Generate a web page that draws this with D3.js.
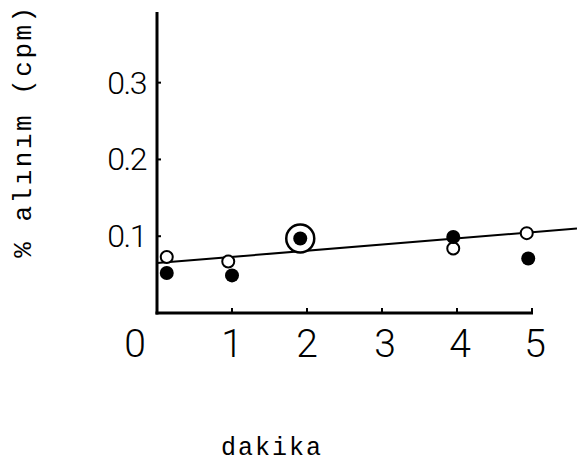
<!DOCTYPE html>
<html>
<head>
<meta charset="utf-8">
<script src="https://cdn.jsdelivr.net/npm/d3@7"></script>
<style>
body { margin: 0; background: #fff; }
.num { font-family: "Roboto", "DejaVu Sans Condensed", sans-serif; font-weight: 300; fill: #000; }
.mono { font-family: "Liberation Mono", "DejaVu Sans Mono", monospace; fill: #000; }
</style>
</head>
<body>
<div id="chart"></div>
<script>
// values
var xTicks = [0, 1, 2, 3, 4, 5];
var yTicks = [0.1, 0.2, 0.3];
var yTickLabels = ["0.1", "0.2", "0.3"];
var openX = [0.13, 0.95, 3.95, 4.93];
var openY = [0.073, 0.067, 0.084, 0.104];
var filledX = [0.13, 1.0, 1.91, 3.95, 4.95];
var filledY = [0.052, 0.049, 0.097, 0.099, 0.071];
var ringX = [1.91];
var ringY = [0.097];
var fitX = [0, 5.6];
var fitY = [0.065, 0.110];

var width = 577, height = 468;
var x = d3.scaleLinear().domain([0, 5]).range([157, 532]);
var y = d3.scaleLinear().domain([0, 0.392]).range([313, 12]);

var svg = d3.select("#chart").append("svg")
    .attr("width", width)
    .attr("height", height);

// axes lines
svg.append("line")
    .attr("x1", x(0)).attr("x2", x(0))
    .attr("y1", y(0.392)).attr("y2", y(0) + 1.5)
    .attr("stroke", "#000").attr("stroke-width", 3);
svg.append("line")
    .attr("x1", x(0) - 1.5).attr("x2", x(5) + 1)
    .attr("y1", y(0)).attr("y2", y(0))
    .attr("stroke", "#000").attr("stroke-width", 3);

// small inner ticks
svg.selectAll(".xt").data(xTicks.slice(1)).enter().append("line")
    .attr("x1", d => x(d)).attr("x2", d => x(d))
    .attr("y1", y(0)).attr("y2", y(0) - 5)
    .attr("stroke", "#000").attr("stroke-width", 2);
svg.selectAll(".yt").data(yTicks).enter().append("line")
    .attr("x1", x(0)).attr("x2", x(0) + 4)
    .attr("y1", d => y(d)).attr("y2", d => y(d))
    .attr("stroke", "#000").attr("stroke-width", 2);

// tick labels
svg.selectAll(".xl").data(xTicks).enter().append("text")
    .attr("class", "num")
    .attr("x", d => d == 0 ? x(d) - 22 : x(d) + (d >= 3 ? 3 : 0))
    .attr("y", 357)
    .attr("text-anchor", "middle")
    .attr("font-size", 39)
    .text(d => d);
svg.selectAll(".yl").data(yTicks).enter().append("text")
    .attr("class", "num")
    .attr("x", 146)
    .attr("y", d => y(d) + 11)
    .attr("text-anchor", "end")
    .attr("font-size", 32)
    .attr("letter-spacing", -1.5)
    .text((d, i) => yTickLabels[i]);

// fitted line
svg.append("line")
    .attr("x1", x(fitX[0])).attr("y1", y(fitY[0]))
    .attr("x2", x(fitX[1])).attr("y2", y(fitY[1]))
    .attr("stroke", "#000").attr("stroke-width", 2);

// ring around the point at 2 min
svg.selectAll(".ring").data(ringX).enter().append("circle")
    .attr("cx", d => x(d))
    .attr("cy", (d, i) => y(ringY[i]))
    .attr("r", 14)
    .attr("fill", "#fff")
    .attr("stroke", "#000").attr("stroke-width", 2.5);

svg.selectAll(".open").data(openX).enter().append("circle")
    .attr("cx", d => x(d))
    .attr("cy", (d, i) => y(openY[i]))
    .attr("r", 6)
    .attr("fill", "#fff")
    .attr("stroke", "#000").attr("stroke-width", 2);

svg.selectAll(".filled").data(filledX).enter().append("circle")
    .attr("cx", d => x(d))
    .attr("cy", (d, i) => y(filledY[i]))
    .attr("r", 7)
    .attr("fill", "#000");

// axis titles
svg.append("text")
    .attr("class", "mono")
    .attr("transform", "translate(31,131) rotate(-90)")
    .attr("text-anchor", "middle")
    .attr("font-size", 26)
    .attr("letter-spacing", 2.5)
    .text("% alınım (cpm)");
svg.append("text")
    .attr("class", "mono")
    .attr("x", 272)
    .attr("y", 455)
    .attr("text-anchor", "middle")
    .attr("font-size", 25)
    .attr("letter-spacing", 2)
    .text("dakika");
</script>
</body>
</html>
